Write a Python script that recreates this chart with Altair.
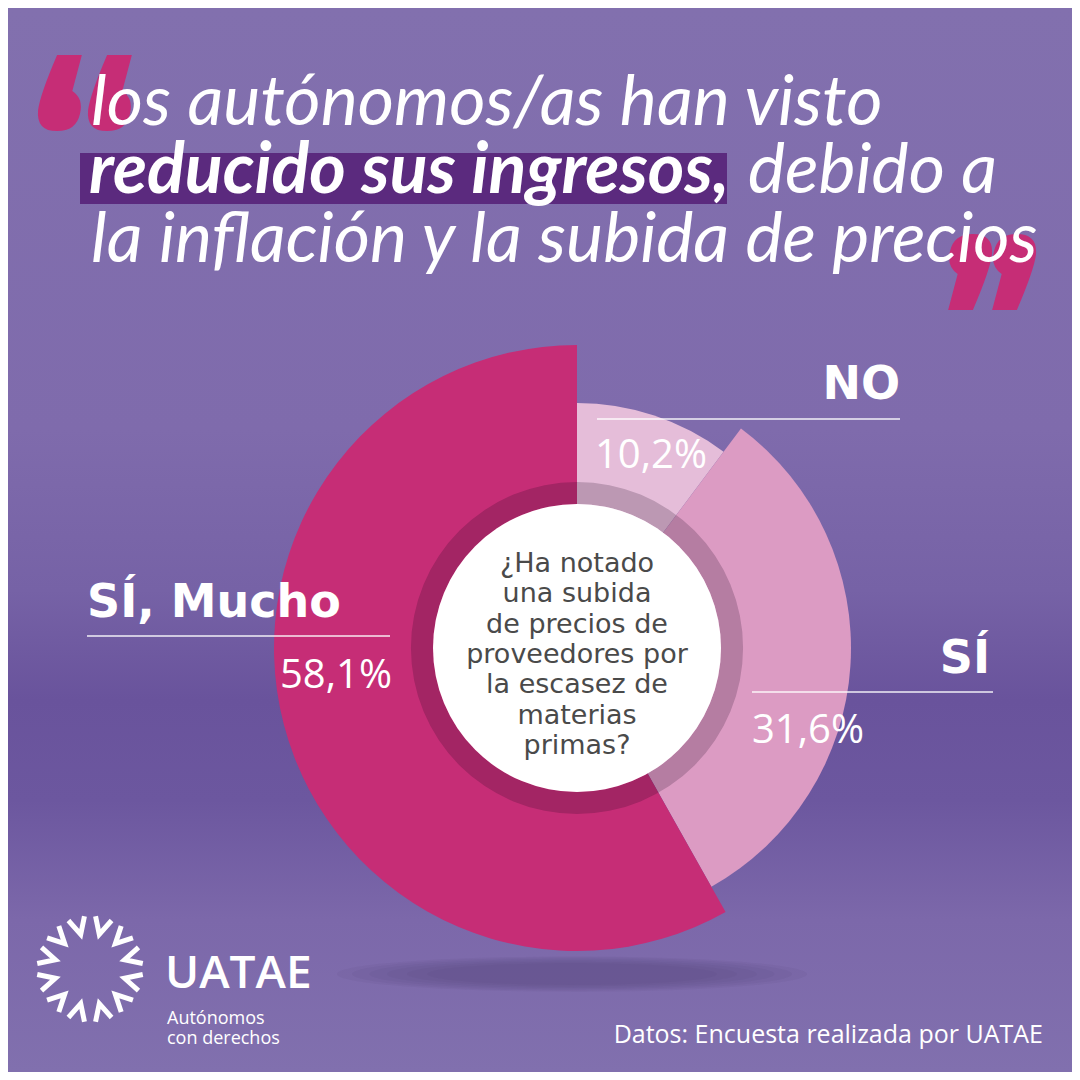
import altair as alt
import pandas as pd
import numpy as np

# ---------------- data ----------------
categories = ["NO", "SÍ", "SÍ, Mucho"]
values = [10.2, 31.6, 58.1]
value_labels = ["10,2%", "31,6%", "58,1%"]
slice_colors = ["#e5bdd9", "#dc9bc3", "#c62d76"]
slice_radii = [245, 274, 303]

title_line1 = "los autónomos/as han visto"
title_bold = "reducido sus ingresos,"
title_rest = "debido a"
title_line3 = "la inflación y la subida de precios"

question_lines = ["¿Ha notado", "una subida", "de precios de", "proveedores por",
                  "la escasez de", "materias", "primas?"]
source_text = "Datos: Encuesta realizada por UATAE"
logo_name = "UATAE"
logo_tag = ["Autónomos", "con derechos"]

# ---------------- layout helpers ----------------
OFF = 8
W = 1064
CX, CY = 577, 648
XS = alt.Scale(domain=[8, 1072], nice=False, zero=False)
YS = alt.Scale(domain=[8, 1072], nice=False, zero=False, reverse=True)


def xy(xf="x", yf="y"):
    return dict(x=alt.X(f"{xf}:Q", scale=XS, axis=None),
                y=alt.Y(f"{yf}:Q", scale=YS, axis=None))


def text_layer(rows, **mk):
    df = pd.DataFrame(rows, columns=["t", "x", "y"])
    return alt.Chart(df).mark_text(**mk).encode(text="t:N", **xy())


# ---------------- background ----------------
stops = [(0, "#8270ae"), (430, "#7f6bac"), (590, "#7662a6"), (700, "#69539c"),
         (800, "#6c579f"), (920, "#7c68aa"), (1080, "#8170ae")]
grad = alt.Gradient(
    gradient="linear", x1=0, x2=0, y1=0, y2=1,
    stops=[alt.GradientStop(color=c, offset=max(0, min(1, (y - OFF) / W))) for y, c in stops],
)
bg = alt.Chart(pd.DataFrame({"a": [0]})).mark_rect(color=grad).encode(
    x=alt.value(0), x2=alt.value(W), y=alt.value(0), y2=alt.value(W))

# ---------------- quote marks ----------------
qpath = ("M-0.05,-1 L0.6,-1 L0.35,-0.05 Q0.65,0.15 0.55,0.55 Q0.45,1 -0.05,1 "
         "Q-0.6,1 -0.55,0.45 Q-0.5,0.05 -0.05,-1 Z")
quotes = pd.DataFrame({"x": [59, 109, 971, 1015], "y": [93, 93, 272, 272],
                       "a": [0, 0, 180, 180]})
quote_layer = alt.Chart(quotes).mark_point(
    shape=qpath, filled=True, color="#c62d76", opacity=1, size=5800, strokeWidth=0
).encode(angle=alt.Angle("a:Q", scale=None), **xy())

# ---------------- title ----------------
hl = alt.Chart(pd.DataFrame({"x": [80], "x2": [727], "y": [153], "y2": [204]})).mark_rect(
    color="#5b2a7e").encode(x=alt.X("x:Q", scale=XS, axis=None), x2="x2:Q",
                            y=alt.Y("y:Q", scale=YS, axis=None), y2="y2:Q")
tfont = dict(font="Lato", fontSize=70, fontStyle="italic", color="white", align="left",
             baseline="alphabetic")
t1 = text_layer([[title_line1, 91, 125], [title_rest, 748, 193], [title_line3, 91, 262]], **tfont)
t2 = text_layer([[title_bold, 89, 193]], fontWeight="bold", **tfont)

# ---------------- donut ----------------
total = float(sum(values))
pie_df = pd.DataFrame({"cat": categories, "value": values, "r": slice_radii,
                       "col": slice_colors, "ord": [0, 1, 2]})
pie = alt.Chart(pie_df).transform_window(
    cum="sum(value)", sort=[alt.SortField("ord", order="ascending")],
    frame=[None, 0]
).transform_calculate(start="datum.cum - datum.value").mark_arc().encode(
    theta=alt.Theta("start:Q", scale=alt.Scale(domain=[0, total], range=[0, 2 * np.pi])),
    theta2="cum:Q",
    radius=alt.Radius("r:Q", scale=None),
    color=alt.Color("col:N", scale=None),
    x=alt.value(CX - OFF), y=alt.value(CY - OFF),
)
one = pd.DataFrame({"a": [0]})
ring = alt.Chart(one).mark_arc(innerRadius=144, outerRadius=166, theta=0, theta2=2 * np.pi,
                               color="#1a0520", opacity=0.2).encode(
    x=alt.value(CX - OFF), y=alt.value(CY - OFF))
hole = alt.Chart(one).mark_arc(outerRadius=144, theta=0, theta2=2 * np.pi,
                               color="white").encode(
    x=alt.value(CX - OFF), y=alt.value(CY - OFF))

# shadow under the donut (stacked soft ellipses)
epath = "M-1,0 A1,0.075 0 1,0 1,0 A1,0.075 0 1,0 -1,0 Z"
sh_df = pd.DataFrame({"x": [572] * 6, "y": [974] * 6,
                      "s": [470, 440, 405, 370, 330, 290]})
sh_df["size"] = sh_df["s"] ** 2
shadow = alt.Chart(sh_df).mark_point(shape=epath, filled=True, color="#4f3d78",
                                     opacity=0.08, strokeWidth=0).encode(
    size=alt.Size("size:Q", scale=None), **xy())

question = text_layer([[q, CX, 572 + 30.3 * i] for i, q in enumerate(question_lines)],
                      font="DejaVu Sans", fontSize=27, color="#4a4a4a", align="center",
                      baseline="alphabetic")

# ---------------- labels ----------------
rules = alt.Chart(pd.DataFrame({"x": [597, 752, 87], "x2": [900, 993, 390],
                                "y": [419, 692, 636]})).mark_rule(
    color="white", strokeWidth=1.6, opacity=0.9).encode(
    x=alt.X("x:Q", scale=XS, axis=None), x2="x2:Q", y=alt.Y("y:Q", scale=YS, axis=None))
lab_bold = dict(font="DejaVu Sans", fontWeight="bold", fontSize=46, color="white",
                baseline="alphabetic")
lb_r = text_layer([[categories[0], 900, 399], [categories[1], 990, 673]], align="right", **lab_bold)
lb_l = text_layer([[categories[2], 87, 617]], align="left", **lab_bold)
pct = dict(font="Open Sans", fontSize=40, color="white", baseline="alphabetic")
pc_l = text_layer([[value_labels[0], 595, 468], [value_labels[1], 752, 743]], align="left", **pct)
pc_r = text_layer([[value_labels[2], 392, 688]], align="right", **pct)

# ---------------- logo + source ----------------
ang = np.arange(15, 360, 30)
chev = pd.DataFrame({"x": 90 + 43 * np.sin(np.radians(ang)),
                     "y": 969 - 43 * np.cos(np.radians(ang)), "a": ang})
chev_layer = alt.Chart(chev).mark_point(
    shape="M-0.55,-0.55 L0,0.55 L0.55,-0.55", filled=False, color="white",
    strokeWidth=5, size=680, opacity=1, strokeCap="square", strokeJoin="miter"
).encode(angle=alt.Angle("a:Q", scale=None), **xy())
logo1 = text_layer([[logo_name, 165, 988]], font="Open Sans", fontWeight=600, fontSize=46,
                   color="white", align="left", baseline="alphabetic")
logo2 = text_layer([[logo_tag[0], 167, 1024], [logo_tag[1], 167, 1044]], font="Open Sans",
                   fontSize=18, color="white", align="left", baseline="alphabetic")
src = text_layer([[source_text, 1043, 1043]], font="Open Sans", fontSize=25, color="white",
                 align="right", baseline="alphabetic")

chart = alt.layer(
    bg, shadow, pie, ring, hole, question, quote_layer, hl, t1, t2,
    rules, lb_r, lb_l, pc_l, pc_r, chev_layer, logo1, logo2, src,
).properties(width=W, height=W, padding=0, autosize=alt.AutoSizeParams(type="none")
).configure_view(stroke=None)

chart.save("out.html", embed_options={"renderer": "svg", "actions": False})
